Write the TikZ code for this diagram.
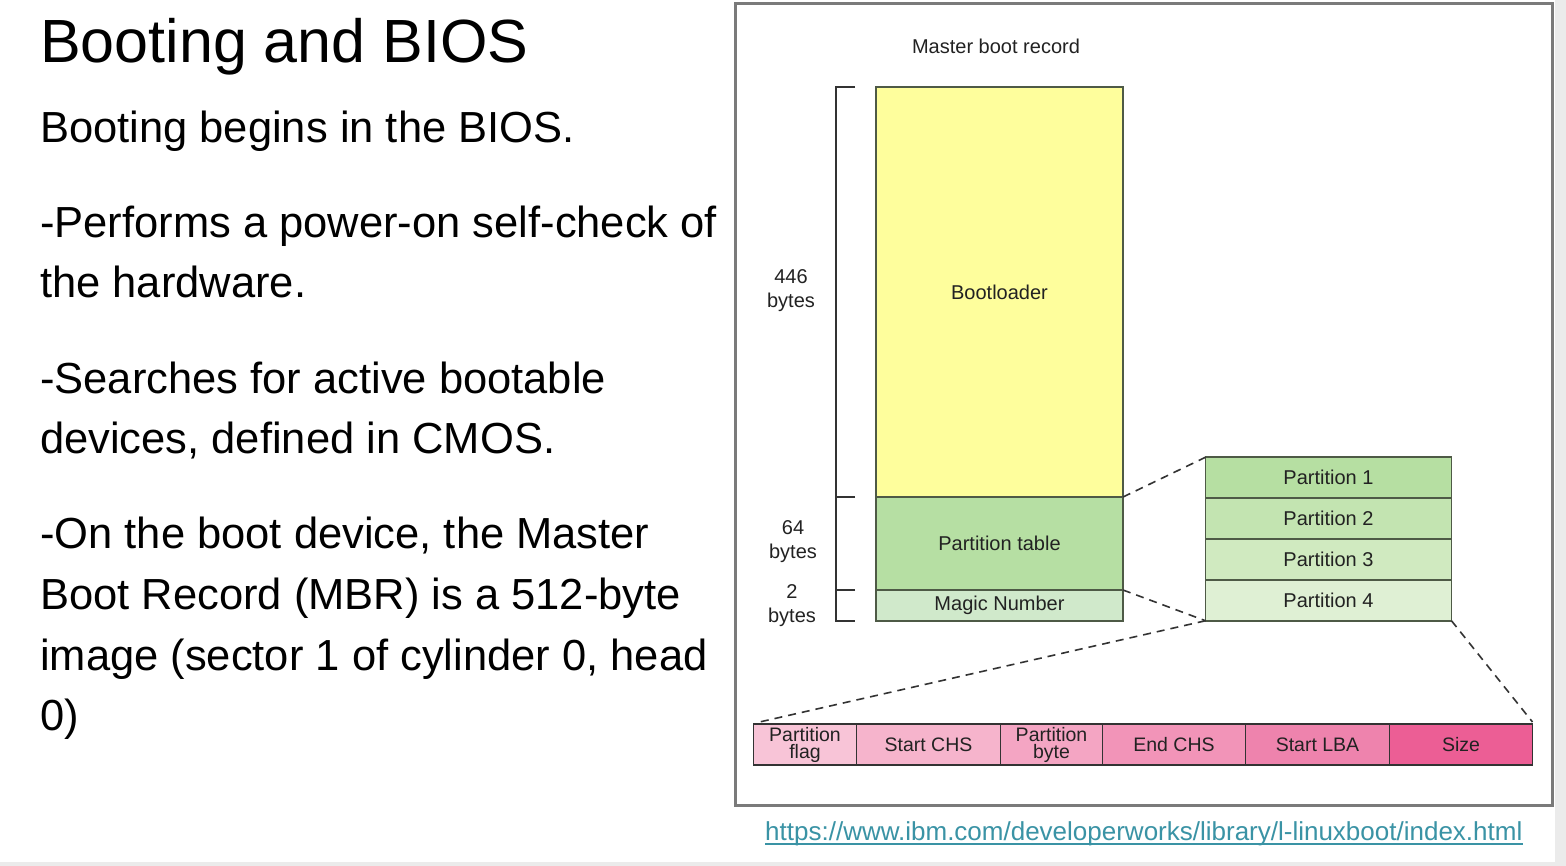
\documentclass[tikz,border=0pt]{standalone}
\usepackage{fontspec}
\setmainfont{Liberation Sans}
\definecolor{stripgray}{HTML}{EBEBEB}
\definecolor{framegray}{HTML}{7A7A7A}
\definecolor{boxline}{HTML}{4E5A46}
\definecolor{inkdark}{HTML}{222222}
\definecolor{yellowfill}{HTML}{FEFE9C}
\definecolor{ptfill}{HTML}{B6DFA3}
\definecolor{magicfill}{HTML}{D0E9CB}
\definecolor{pa}{HTML}{B6DFA2}
\definecolor{pb}{HTML}{C3E4B1}
\definecolor{pc}{HTML}{D0EAC0}
\definecolor{pd}{HTML}{DFF0D4}
\definecolor{ka}{HTML}{F8C4D7}
\definecolor{kb}{HTML}{F6B4CC}
\definecolor{kc}{HTML}{F4A5C3}
\definecolor{kd}{HTML}{F294B8}
\definecolor{ke}{HTML}{EE83AD}
\definecolor{kf}{HTML}{EC5E95}
\definecolor{linkteal}{HTML}{3A93A5}
\begin{document}
\begin{tikzpicture}[x=1pt,y=-1pt,
  bodytext/.style={anchor=base west, inner sep=0pt, font=\fontsize{43.5}{50}\selectfont},
  small/.style={font=\fontsize{20}{24}\selectfont, text=inkdark},
  cell/.style={small, draw=boxline, line width=1.6pt, inner sep=0pt, outer sep=0pt},
  pink/.style={cell, draw=black!80, minimum height=41, align=center,
               font=\fontsize{19.5}{17}\selectfont},
  sizelabel/.style={small, align=center, inner sep=0pt},
  zoomline/.style={draw=black!80, line width=1.6pt, dash pattern=on 8pt off 6pt},
  bracket/.style={draw=black!80, line width=1.5pt}]
\useasboundingbox (0,0) rectangle (1566,866);
\fill[white] (0,0) rectangle (1566,866);
\fill[stripgray] (1555,0) rectangle (1566,866);
\fill[stripgray] (0,862) rectangle (1566,866);

% left column: title and notes
\node[anchor=base west, inner sep=0pt, font=\fontsize{61}{70}\selectfont] (title) at (40,63) {Booting and BIOS};
\node[bodytext] (t1) at (40,143) {Booting begins in the BIOS.};
\node[bodytext] (t2) at (40,238) {-Performs a power-on self-check of};
\node[bodytext] (t3) at (40,298) {the hardware.};
\node[bodytext] (t4) at (40,393) {-Searches for active bootable};
\node[bodytext] (t5) at (40,453) {devices, defined in CMOS.};
\node[bodytext] (t6) at (40,548) {-On the boot device, the Master};
\node[bodytext] (t7) at (40,609) {Boot Record (MBR) is a 512-byte};
\node[bodytext] (t8) at (40,670) {image (sector 1 of cylinder 0, head};
\node[bodytext] (t9) at (40,730) {0)};

% framed figure
\draw[framegray, line width=3pt] (735,4) rectangle (1552,805);
\node[small] (mbrtitle) at (996,46) {Master boot record};

% MBR layout
\node[cell, fill=yellowfill, minimum width=247, minimum height=410] (boot) at (999.5,292) {Bootloader};
\node[cell, fill=ptfill, minimum width=247, minimum height=93, anchor=north] (ptable) at (boot.south) {Partition table};
\node[cell, fill=magicfill, minimum width=247, minimum height=31, anchor=north] (magic) at (ptable.south) {Magic Number};

% byte-size bracket
\draw[bracket] ([xshift=-21pt]boot.north west) -- ++(-19,0) |- ([xshift=-21pt]magic.south west);
\draw[bracket] ([xshift=-21pt]boot.south west) -- ++(-19,0);
\draw[bracket] ([xshift=-21pt]ptable.south west) -- ++(-19,0);
\node[sizelabel] (s446) at (791,291) {446\\bytes};
\node[sizelabel] (s64) at (793,542) {64\\bytes};
\node[sizelabel] (s2) at (792,606) {2\\bytes};

% partition table entries
\node[cell, fill=pa, minimum width=246, minimum height=40.5] (p1) at (1328.5,477.5) {Partition 1};
\node[cell, fill=pb, minimum width=246, minimum height=41, anchor=north] (p2) at (p1.south) {Partition 2};
\node[cell, fill=pc, minimum width=246, minimum height=41, anchor=north] (p3) at (p2.south) {Partition 3};
\node[cell, fill=pd, minimum width=246, minimum height=41, anchor=north] (p4) at (p3.south) {Partition 4};

% partition entry fields
\node[pink, fill=ka, minimum width=103, anchor=north west] (flag) at (753.5,724) {Partition\\flag};
\node[pink, fill=kb, minimum width=144, anchor=north west] (schs) at (flag.north east) {Start CHS};
\node[pink, fill=kc, minimum width=102, anchor=north west] (pbyte) at (schs.north east) {Partition\\byte};
\node[pink, fill=kd, minimum width=143, anchor=north west] (echs) at (pbyte.north east) {End CHS};
\node[pink, fill=ke, minimum width=144, anchor=north west] (slba) at (echs.north east) {Start LBA};
\node[pink, fill=kf, minimum width=143, anchor=north west] (size) at (slba.north east) {Size};

% zoom guides
\draw[zoomline] (boot.south east) -- (p1.north west);
\draw[zoomline] (ptable.south east) -- (p4.south west);
\draw[zoomline] (p4.south west) -- ([xshift=6pt,yshift=2pt]flag.north west);
\draw[zoomline] (p4.south east) -- ([yshift=2pt]size.north east);

% source link
\node[anchor=base west, inner sep=0pt, text=linkteal, font=\fontsize{26}{30}\selectfont] (url) at (765,840) {https://www.ibm.com/developerworks/library/l-linuxboot/index.html};
\draw[linkteal, line width=2pt] ([yshift=-4pt]url.base west) -- ([yshift=-4pt]url.base east);
\end{tikzpicture}
\end{document}
